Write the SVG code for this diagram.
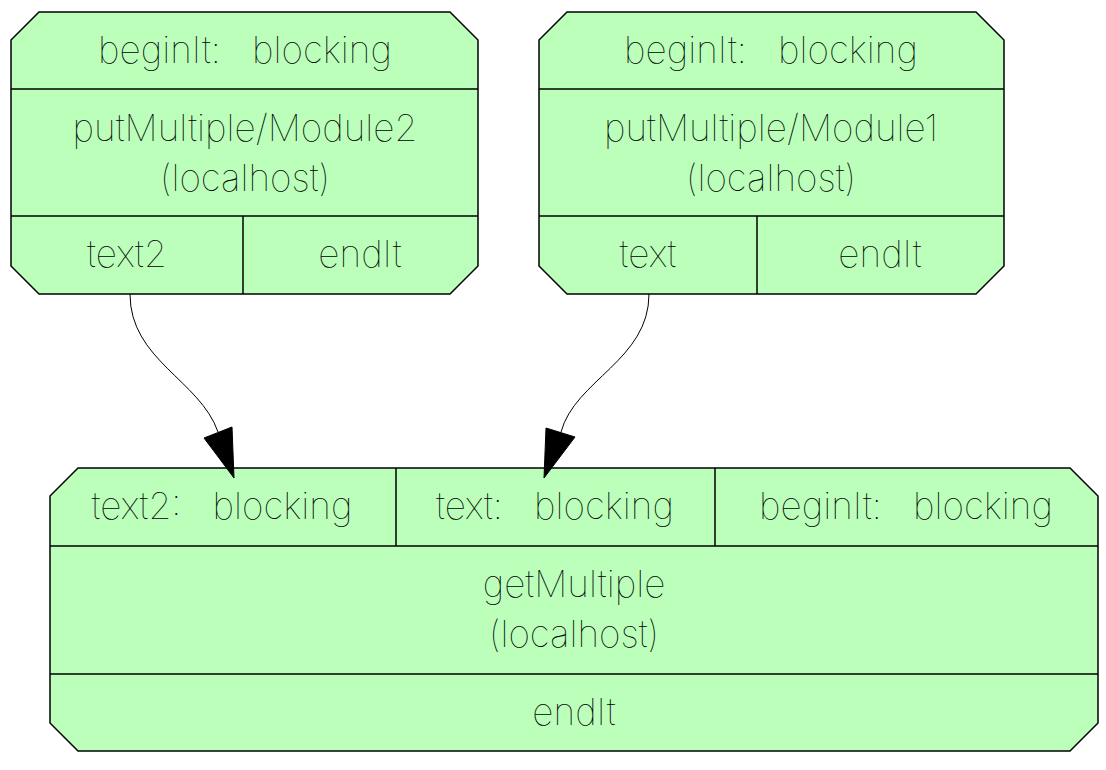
<svg xmlns="http://www.w3.org/2000/svg" width="1106" height="770" viewBox="0 0 1106 770">
<style>
.box{fill:#bbffbb;stroke:#000;stroke-width:1.5}
.ln{stroke:#000;stroke-width:1.5;fill:none}
text{font-family:"Inter","Lato","DejaVu Sans",sans-serif;font-weight:100;font-size:37px;fill:#000;text-anchor:middle;white-space:pre}
.edge{stroke:#000;stroke-width:1;fill:none}
.head{fill:#000;stroke:#000;stroke-width:1}
</style>
<g id="node-put2">
<polygon class="box" points="39,12 450,12 478,40 478,266 450,294 39,294 11,266 11,40"/>
<line class="ln" x1="11" y1="89" x2="478" y2="89"/>
<line class="ln" x1="11" y1="216" x2="478" y2="216"/>
<line class="ln" x1="243" y1="216" x2="243" y2="294"/>
<text x="245" y="63">beginIt:   blocking</text>
<text x="245" y="141">putMultiple/Module2</text>
<text x="245" y="191">(localhost)</text>
<text x="127" y="267">text2</text>
<text x="360" y="267">endIt</text>
</g>
<g id="node-put1">
<polygon class="box" points="567,12 976,12 1004,40 1004,266 976,294 567,294 539,266 539,40"/>
<line class="ln" x1="539" y1="89" x2="1004" y2="89"/>
<line class="ln" x1="539" y1="216" x2="1004" y2="216"/>
<line class="ln" x1="757" y1="216" x2="757" y2="294"/>
<text x="771" y="63">beginIt:   blocking</text>
<text x="771" y="141">putMultiple/Module1</text>
<text x="771" y="191">(localhost)</text>
<text x="648" y="267">text</text>
<text x="880" y="267">endIt</text>
</g>
<g id="node-get">
<polygon class="box" points="78,468 1070,468 1098,496 1098,723 1070,751 78,751 50,723 50,496"/>
<line class="ln" x1="50" y1="546" x2="1098" y2="546"/>
<line class="ln" x1="50" y1="674" x2="1098" y2="674"/>
<line class="ln" x1="396" y1="468" x2="396" y2="546"/>
<line class="ln" x1="715" y1="468" x2="715" y2="546"/>
<text x="222" y="519">text2:   blocking</text>
<text x="555" y="519">text:   blocking</text>
<text x="906" y="519">beginIt:   blocking</text>
<text x="574" y="597">getMultiple</text>
<text x="574" y="647">(localhost)</text>
<text x="574" y="725">endIt</text>
</g>
<g id="edges">
<path class="edge" d="M130,294 C130,360 200,380 218,432"/>
<polygon class="head" points="204,438 232,427 234,478"/>
<path class="edge" d="M649,294 C649,360 575,380 561,432"/>
<polygon class="head" points="546,428 575,437 544,478"/>
</g>
</svg>
